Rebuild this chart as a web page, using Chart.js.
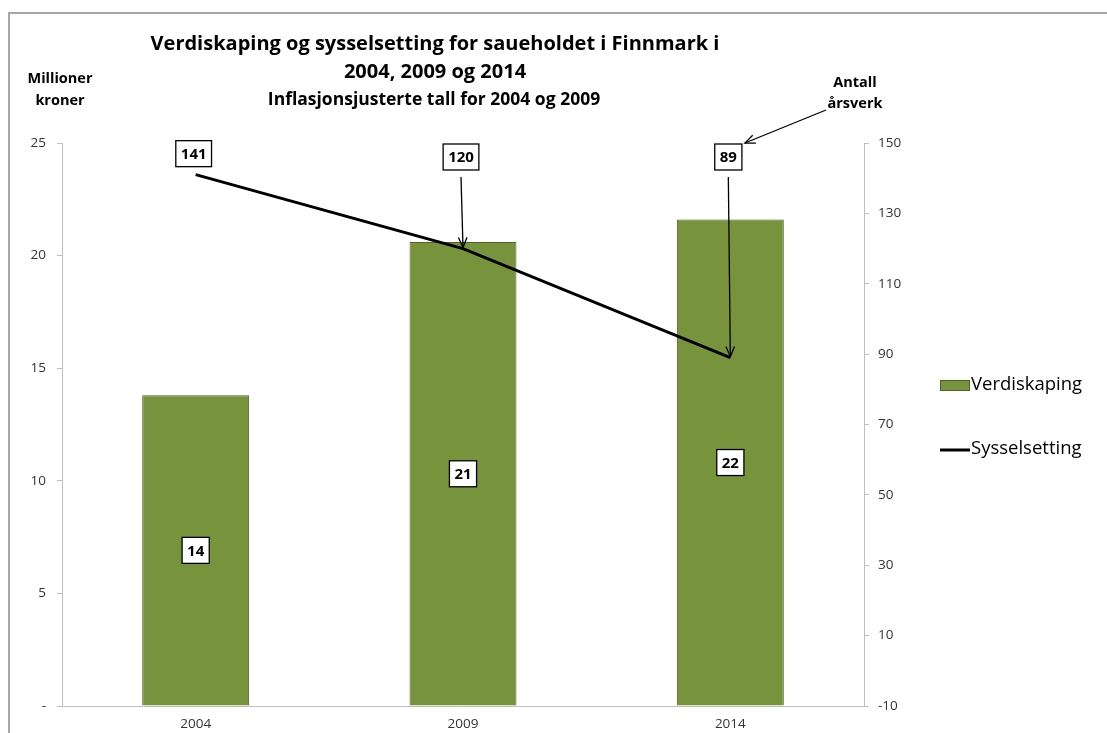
<!DOCTYPE html>
<html>
<head>
<meta charset="utf-8">
<script src="https://cdn.jsdelivr.net/npm/chart.js@4/dist/chart.umd.min.js"></script>
<style>
  html, body { margin: 0; padding: 0; background: #fff; }
  #wrap { width: 1107px; height: 733px; position: relative; }
</style>
</head>
<body>
<div id="wrap"><canvas id="chart" width="1107" height="733"></canvas></div>
<script>
var years = ['2004', '2009', '2014'];
var verdiskaping = [13.8, 20.6, 21.6];
var sysselsetting = [141, 120, 89];
var leftTicks = [0, 5, 10, 15, 20, 25];
var rightTicks = [-10, 10, 30, 50, 70, 90, 110, 130, 150];

var FONT = '"Open Sans", Lato, sans-serif';

var drawBox = function(ctx, text, cx, cy){
    ctx.font = 'bold 15px ' + FONT;
    var w = ctx.measureText(text).width + 10;
    var h = 26;
    ctx.fillStyle = '#fff';
    ctx.fillRect(cx - w / 2, cy - h / 2, w, h);
    ctx.strokeStyle = '#000';
    ctx.lineWidth = 1.3;
    ctx.strokeRect(cx - w / 2, cy - h / 2, w, h);
    ctx.fillStyle = '#000';
    ctx.textAlign = 'center';
    ctx.textBaseline = 'middle';
    ctx.fillText(text, cx, cy + 1);
    return {w: w, h: h};
};

var drawArrow = function(ctx, x1, y1, x2, y2){
    ctx.strokeStyle = '#000';
    ctx.lineWidth = 1.3;
    ctx.beginPath();
    ctx.moveTo(x1, y1);
    ctx.lineTo(x2, y2);
    ctx.stroke();
    var a = Math.atan2(y2 - y1, x2 - x1);
    var len = 11;
    ctx.beginPath();
    ctx.moveTo(x2 - len * Math.cos(a - 0.4), y2 - len * Math.sin(a - 0.4));
    ctx.lineTo(x2, y2);
    ctx.lineTo(x2 - len * Math.cos(a + 0.4), y2 - len * Math.sin(a + 0.4));
    ctx.stroke();
};

var decorPlugin = {
    id: 'decor',
    beforeDraw: function(chart){
        var ctx = chart.ctx;
        ctx.save();
        ctx.fillStyle = '#fff';
        ctx.fillRect(0, 0, chart.width, chart.height);
        ctx.strokeStyle = '#a6a6a6';
        ctx.lineWidth = 2;
        ctx.beginPath();
        ctx.moveTo(9, chart.height);
        ctx.lineTo(9, 13);
        ctx.lineTo(chart.width, 13);
        ctx.stroke();
        ctx.restore();
    },
    afterDraw: function(chart){
        var ctx = chart.ctx;
        var area = chart.chartArea;
        ctx.save();

        // titles
        ctx.fillStyle = '#000';
        ctx.textAlign = 'center';
        ctx.textBaseline = 'middle';
        ctx.font = 'bold 20px ' + FONT;
        ctx.fillText('Verdiskaping og sysselsetting for saueholdet i Finnmark i', 435, 44);
        ctx.fillText('2004, 2009 og 2014', 435, 72);
        ctx.font = 'bold 17.5px ' + FONT;
        ctx.fillText('Inflasjonsjusterte tall for 2004 og 2009', 434, 100);

        // axis titles
        ctx.font = 'bold 14.5px ' + FONT;
        ctx.fillText('Millioner', 60, 79);
        ctx.fillText('kroner', 60, 101);
        ctx.fillText('Antall', 855, 83);
        ctx.fillText('årsverk', 855, 104);

        // bar value labels
        var barMeta = chart.getDatasetMeta(0);
        barMeta.data.forEach(function(bar, i){
            var mid = (bar.y + bar.base) / 2;
            drawBox(ctx, String(Math.round(verdiskaping[i])), bar.x, mid);
        });

        // line value labels with arrows
        var lineMeta = chart.getDatasetMeta(1);
        var lastBox = null;
        lineMeta.data.forEach(function(pt, i){
            var cy = Math.min(pt.y - 21, area.top + 14);
            var cx = pt.x - 2;
            var b = drawBox(ctx, String(sysselsetting[i]), cx, cy);
            if (pt.y - cy > 40) {
                drawArrow(ctx, cx, cy + b.h / 2 + 7, pt.x, pt.y - 1);
            }
            lastBox = {x: cx, y: cy, w: b.w, h: b.h};
        });
        if (lastBox) {
            drawArrow(ctx, 826, 110, lastBox.x + lastBox.w / 2 + 3, lastBox.y - lastBox.h / 2 - 1);
        }

        // legend
        ctx.textAlign = 'left';
        ctx.font = '18.5px ' + FONT;
        ctx.fillStyle = '#77933c';
        ctx.fillRect(940, 380, 29, 10);
        ctx.strokeStyle = '#4f6228';
        ctx.lineWidth = 1;
        ctx.strokeRect(940.5, 380.5, 29, 10);
        ctx.fillStyle = '#000';
        ctx.fillText('Verdiskaping', 971, 385);
        ctx.strokeStyle = '#000';
        ctx.lineWidth = 3;
        ctx.beginPath();
        ctx.moveTo(940, 450);
        ctx.lineTo(970, 450);
        ctx.stroke();
        ctx.fillText('Sysselsetting', 971, 449);

        ctx.restore();
    }
};

new Chart(document.getElementById('chart'), {
    type: 'bar',
    data: {
        labels: years,
        datasets: [
            {
                type: 'bar',
                label: 'Verdiskaping',
                data: verdiskaping,
                yAxisID: 'y',
                backgroundColor: '#77933c',
                borderColor: '#4f6228',
                borderWidth: 1,
                barPercentage: 0.4,
                categoryPercentage: 1.0,
                order: 2
            },
            {
                type: 'line',
                label: 'Sysselsetting',
                data: sysselsetting,
                yAxisID: 'y2',
                borderColor: '#000',
                borderWidth: 3,
                pointRadius: 0,
                fill: false,
                tension: 0,
                order: 1
            }
        ]
    },
    options: {
        responsive: false,
        animation: false,
        layout: {padding: {left: 0, right: 0, top: 143, bottom: 0}},
        plugins: {
            legend: {display: false},
            title: {display: false},
            tooltip: {enabled: false}
        },
        scales: {
            x: {
                grid: {display: false},
                border: {color: '#bfbfbf', width: 1},
                ticks: {color: '#333', font: {family: FONT, size: 13.5}, padding: 2},
                afterFit: function(scale){ scale.height = 27; }
            },
            y: {
                position: 'left',
                min: 0,
                max: 25,
                afterBuildTicks: function(scale){
                    scale.ticks = leftTicks.map(function(v){ return {value: v}; });
                },
                ticks: {
                    color: '#333',
                    font: {family: FONT, size: 13.5},
                    padding: 11,
                    callback: function(v){ return v === 0 ? '-' : v; }
                },
                grid: {drawOnChartArea: false, color: '#bfbfbf', tickLength: 5},
                border: {color: '#bfbfbf', width: 1},
                afterFit: function(scale){ scale.width = 62; }
            },
            y2: {
                position: 'right',
                min: -10,
                max: 150,
                afterBuildTicks: function(scale){
                    scale.ticks = rightTicks.map(function(v){ return {value: v}; });
                },
                ticks: {color: '#333', font: {family: FONT, size: 13.5}, padding: 9},
                grid: {drawOnChartArea: false, color: '#bfbfbf', tickLength: 5},
                border: {color: '#bfbfbf', width: 1},
                afterFit: function(scale){ scale.width = 243; }
            }
        }
    },
    plugins: [decorPlugin]
});
</script>
</body>
</html>
